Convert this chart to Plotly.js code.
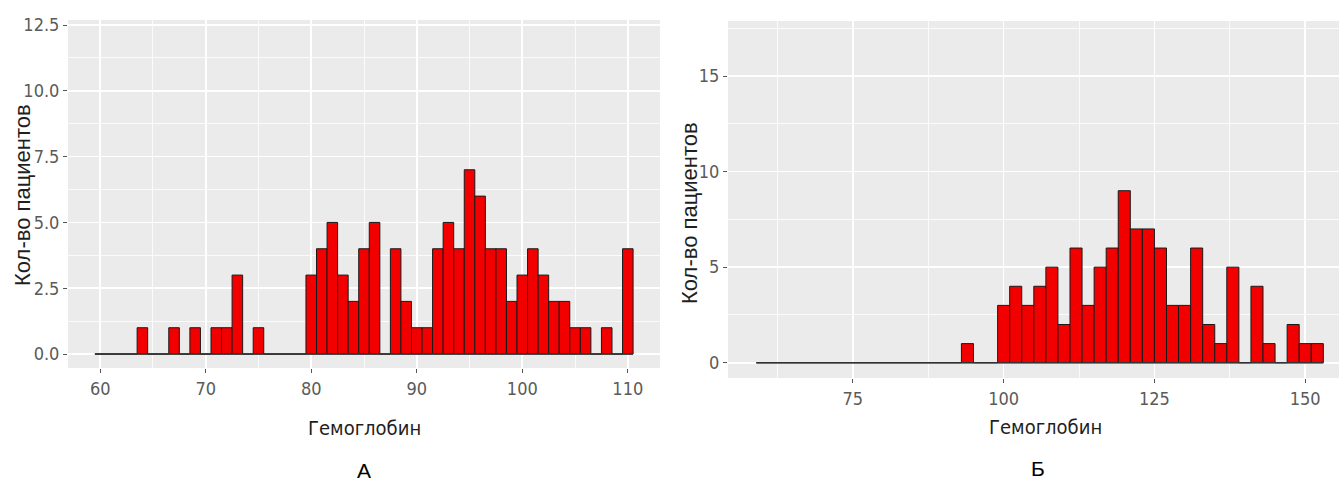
<!DOCTYPE html>
<html>
<head>
<meta charset="utf-8">
<script src="https://cdn.plot.ly/plotly-3.0.1.min.js"></script>
<style>
  html, body { margin: 0; padding: 0; background: #ffffff; }
  #chart { width: 1339px; height: 486px; }
</style>
</head>
<body>
<div id="chart"></div>
<script>
// ---- Data ----
// Panel A: hemoglobin bins (width 1), patient counts
const binsA = [60, 61, 62, 63, 64, 65, 66, 67, 68, 69, 70, 71, 72, 73, 74, 75, 76, 77, 78, 79,
               80, 81, 82, 83, 84, 85, 86, 87, 88, 89, 90, 91, 92, 93, 94, 95, 96, 97, 98, 99,
               100, 101, 102, 103, 104, 105, 106, 107, 108, 109, 110];
const countsA = [0, 0, 0, 0, 1, 0, 0, 1, 0, 1, 0, 1, 1, 3, 0, 1, 0, 0, 0, 0,
                 3, 4, 5, 3, 2, 4, 5, 0, 4, 2, 1, 1, 4, 5, 4, 7, 6, 4, 4, 2,
                 3, 4, 3, 2, 2, 1, 1, 0, 1, 0, 4];
const binWidthA = 1;

// Panel Б: hemoglobin bins (width 2), patient counts
const binsB = [60, 62, 64, 66, 68, 70, 72, 74, 76, 78, 80, 82, 84, 86, 88, 90, 92,
               94, 96, 98, 100, 102, 104, 106, 108, 110, 112, 114, 116, 118, 120,
               122, 124, 126, 128, 130, 132, 134, 136, 138, 140, 142, 144, 146, 148, 150, 152];
const countsB = [0, 0, 0, 0, 0, 0, 0, 0, 0, 0, 0, 0, 0, 0, 0, 0, 0,
                 1, 0, 0, 3, 4, 3, 4, 5, 2, 6, 3, 5, 6, 9,
                 7, 7, 6, 3, 3, 6, 2, 1, 5, 0, 4, 1, 0, 2, 1, 1];
const binWidthB = 2;

// Tick labels
const xTicksA = [60, 70, 80, 90, 100, 110];
const yTicksA = [0, 2.5, 5, 7.5, 10, 12.5];
const yTickTextA = ['0.0', '2.5', '5.0', '7.5', '10.0', '12.5'];
const xTicksB = [75, 100, 125, 150];
const yTicksB = [0, 5, 10, 15];

const yTitle = 'Кол-во пациентов';
const xTitle = 'Гемоглобин';
const panelLabels = ['А', 'Б'];

// ---- Styling ----
const W = 1339, H = 486;
const narrow = 'Liberation Sans Narrow, DejaVu Sans Condensed, Arial Narrow, sans-serif';
const regular = 'Liberation Sans, Arial, sans-serif';
const panelBg = '#EBEBEB';

function barTrace(x, y, w, xa, ya) {
  return {
    type: 'bar', x: x, y: y, width: w, xaxis: xa, yaxis: ya,
    orientation: 'v',
    marker: { color: '#F20000', line: { color: '#1a1a1a', width: 1 } },
    hoverinfo: 'x+y', showlegend: false
  };
}
function baseTrace(bins, w, xa, ya) {
  return {
    type: 'scatter', mode: 'lines',
    x: [bins[0] - w / 2, bins[bins.length - 1] + w / 2], y: [0, 0],
    xaxis: xa, yaxis: ya,
    line: { color: '#333333', width: 1.5 },
    hoverinfo: 'skip', showlegend: false
  };
}

const traces = [
  barTrace(binsA, countsA, binWidthA, 'x', 'y'),
  baseTrace(binsA, binWidthA, 'x', 'y'),
  barTrace(binsB, countsB, binWidthB, 'x2', 'y2'),
  baseTrace(binsB, binWidthB, 'x2', 'y2')
];

const axisCommon = {
  showgrid: true, gridcolor: '#FFFFFF', gridwidth: 1.6,
  zeroline: false, showline: false,
  ticks: 'outside', ticklen: 4, tickwidth: 1, tickcolor: '#555555',
  tickfont: { family: narrow, size: 18, color: '#5a5a5a' },
  fixedrange: true
};

function px2x(p) { return p / W; }
function px2y(p) { return 1 - p / H; }

const layout = {
  width: W, height: H,
  margin: { l: 0, r: 0, t: 0, b: 0 },
  paper_bgcolor: '#FFFFFF',
  plot_bgcolor: panelBg,
  bargap: 0,
  showlegend: false,
  xaxis: Object.assign({}, axisCommon, {
    domain: [px2x(68), px2x(660)], anchor: 'y',
    range: [56.95, 113.05],
    tickmode: 'array', tickvals: xTicksA, ticktext: xTicksA.map(String),
    minor: { dtick: 5, tick0: 55, showgrid: true, gridcolor: '#FFFFFF', gridwidth: 0.8, ticks: '' }
  }),
  yaxis: Object.assign({}, axisCommon, {
    domain: [px2y(368), px2y(20)], anchor: 'x',
    range: [-0.53, 12.69],
    tickmode: 'array', tickvals: yTicksA, ticktext: yTickTextA,
    minor: { dtick: 1.25, tick0: 0, showgrid: true, gridcolor: '#FFFFFF', gridwidth: 0.8, ticks: '' }
  }),
  xaxis2: Object.assign({}, axisCommon, {
    domain: [px2x(728), 1], anchor: 'y2',
    range: [54.3, 155.6],
    tickmode: 'array', tickvals: xTicksB, ticktext: xTicksB.map(String),
    minor: { dtick: 12.5, tick0: 62.5, showgrid: true, gridcolor: '#FFFFFF', gridwidth: 0.8, ticks: '' }
  }),
  yaxis2: Object.assign({}, axisCommon, {
    domain: [px2y(378), px2y(21)], anchor: 'x2',
    range: [-0.8, 17.88],
    tickmode: 'array', tickvals: yTicksB, ticktext: yTicksB.map(String),
    minor: { dtick: 2.5, tick0: 0, showgrid: true, gridcolor: '#FFFFFF', gridwidth: 0.8, ticks: '' }
  }),
  annotations: [
    { text: yTitle, xref: 'paper', yref: 'paper', x: px2x(22), y: px2y(195),
      textangle: -90, showarrow: false, xanchor: 'center', yanchor: 'middle',
      font: { family: regular, size: 22, color: '#1f1f1f' } },
    { text: yTitle, xref: 'paper', yref: 'paper', x: px2x(690), y: px2y(213),
      textangle: -90, showarrow: false, xanchor: 'center', yanchor: 'middle',
      font: { family: regular, size: 22, color: '#1f1f1f' } },
    { text: xTitle, xref: 'paper', yref: 'paper', x: px2x(364), y: px2y(428),
      showarrow: false, xanchor: 'center', yanchor: 'middle',
      font: { family: narrow, size: 20, color: '#1f1f1f' } },
    { text: xTitle, xref: 'paper', yref: 'paper', x: px2x(1045), y: px2y(427),
      showarrow: false, xanchor: 'center', yanchor: 'middle',
      font: { family: narrow, size: 20, color: '#1f1f1f' } },
    { text: panelLabels[0], xref: 'paper', yref: 'paper', x: px2x(364), y: px2y(470),
      showarrow: false, xanchor: 'center', yanchor: 'middle',
      font: { family: regular, size: 21, color: '#000000' } },
    { text: panelLabels[1], xref: 'paper', yref: 'paper', x: px2x(1038), y: px2y(468),
      showarrow: false, xanchor: 'center', yanchor: 'middle',
      font: { family: regular, size: 21, color: '#000000' } }
  ]
};

Plotly.newPlot('chart', traces, layout, { displayModeBar: false, staticPlot: true });
</script>
</body>
</html>
